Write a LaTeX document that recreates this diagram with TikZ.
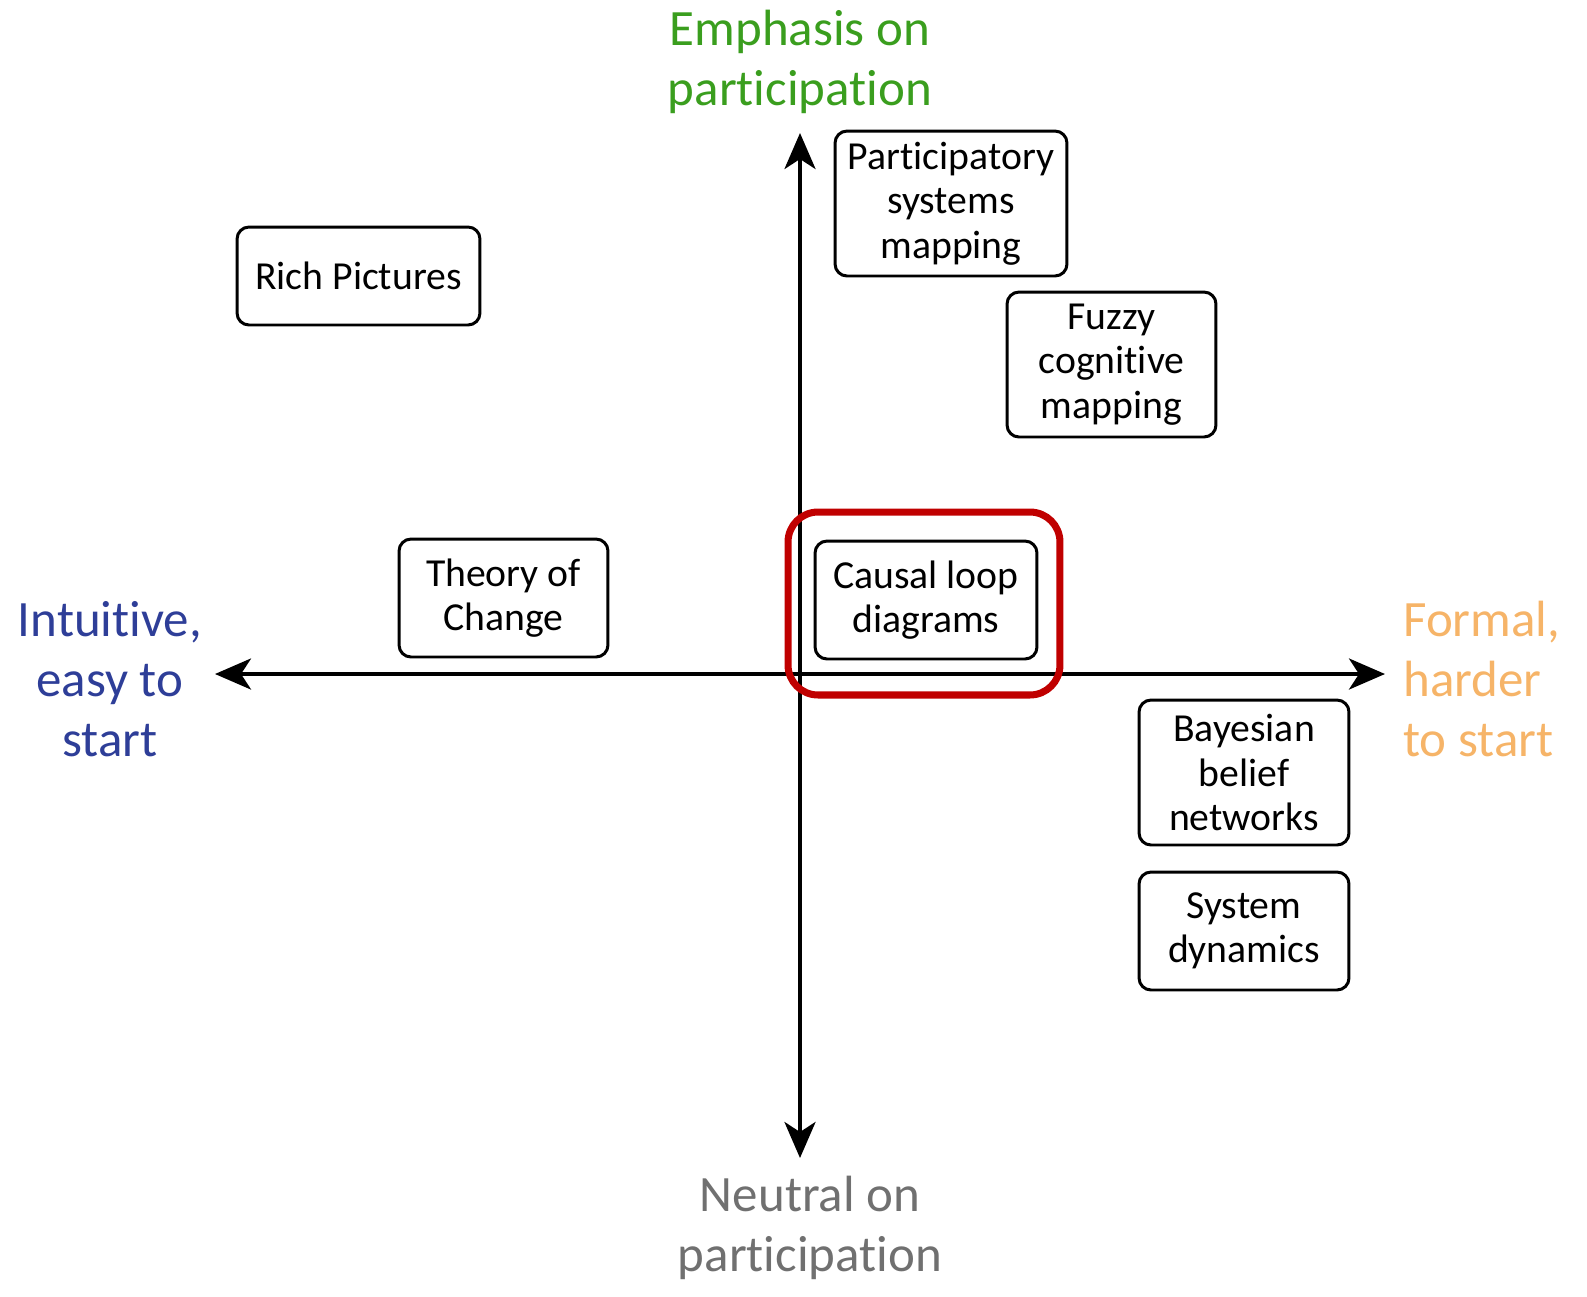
\documentclass[tikz,border=0pt]{standalone}
\usepackage{fontspec}
\setmainfont{Carlito}[Ligatures=NoCommon]
\usetikzlibrary{arrows.meta}
\definecolor{cgreen}{RGB}{58,158,30}
\definecolor{cblue}{RGB}{46,62,152}
\definecolor{corange}{RGB}{246,180,104}
\definecolor{cgray}{RGB}{112,112,112}
\definecolor{cred}{RGB}{192,0,0}
\tikzset{
  mbox/.style={draw=black, line width=1.7pt, rounded corners=0.24cm, inner sep=0pt, align=center,
    font=\fontsize{22.6}{25.3}\selectfont},
  axlabel/.style={inner sep=0pt, align=center, font=\fontsize{29}{34}\selectfont},
  axis/.style={line width=2.3pt, -{Stealth[length=0.72cm, width=0.62cm, inset=0.2cm]}},
  hilite/.style={draw=cred, line width=4pt, rounded corners=0.6cm, inner sep=0pt}
}
\begin{document}
\begin{tikzpicture}[x=0.02cm, y=-0.02cm]
\useasboundingbox (0,0) rectangle (1587,1296);
% axes
\coordinate (o) at (800,674);
\coordinate (xl) at (215,674);
\coordinate (xr) at (1385,674);
\coordinate (yt) at (800,133);
\coordinate (yb) at (800,1158);
\draw[axis] (o) -- (xl);
\draw[axis] (o) -- (xr);
\draw[axis] (o) -- (yt);
\draw[axis] (o) -- (yb);
% boxes
\node[mbox, minimum width=4.86cm, minimum height=1.96cm] (rich) at (358.5,276) {Rich Pictures};
\node[mbox, minimum width=4.64cm, minimum height=2.90cm] (psm) at (951,203.5) {Participatory\\systems\\mapping};
\node[mbox, minimum width=4.18cm, minimum height=2.90cm] (fcm) at (1111.5,364.5) {Fuzzy\\cognitive\\mapping};
\node[mbox, minimum width=4.18cm, minimum height=2.36cm] (toc) at (503.5,598) {Theory of\\Change};
\node[mbox, minimum width=4.44cm, minimum height=2.36cm] (cld) at (926,600) {Causal loop\\diagrams};
\node[hilite, minimum width=5.44cm, minimum height=3.66cm] (red) at (924,603.5) {};
\node[mbox, minimum width=4.20cm, minimum height=2.90cm] (bbn) at (1244,772.5) {Bayesian\\belief\\networks};
\node[mbox, minimum width=4.20cm, minimum height=2.36cm] (sd) at (1244,931) {System\\dynamics};
% axis labels
\node[axlabel, text=cgreen] (top) at (800,62) {Emphasis on\\participation};
\node[axlabel, text=cblue] (left) at (110,679) {Intuitive,\\easy to\\start};
\node[axlabel, text=corange, align=left, anchor=west] (right) at (1403,679) {Formal,\\harder\\to start};
\node[axlabel, text=cgray] (bottom) at (810,1228) {Neutral on\\participation};
\end{tikzpicture}
\end{document}
